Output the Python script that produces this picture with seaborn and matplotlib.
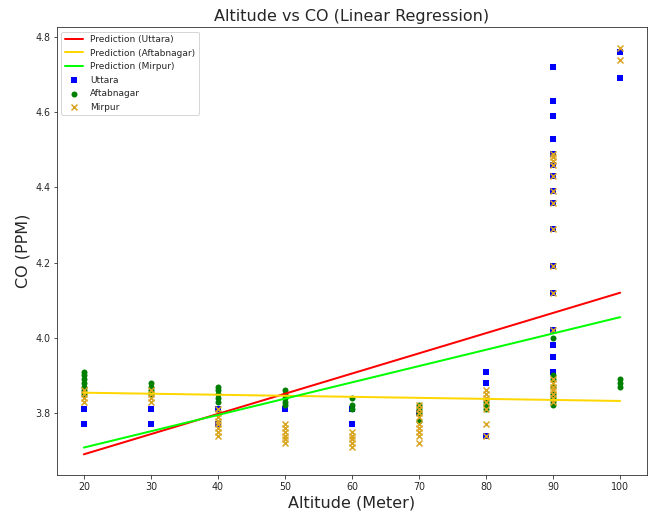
import numpy as np
import pandas as pd
import matplotlib
matplotlib.use("Agg")
import matplotlib.pyplot as plt
import seaborn as sns

# ---- data ----
uttara_alt = [20, 20, 30, 30, 40, 40, 50, 60, 60, 70, 80, 80, 80,
              90, 90, 90, 90, 90, 90, 90, 90, 90, 90, 90, 90, 90, 90, 90, 90,
              100, 100]
uttara_co = [3.81, 3.77, 3.81, 3.77, 3.81, 3.77, 3.81, 3.81, 3.77, 3.80, 3.91, 3.88, 3.74,
             4.72, 4.63, 4.59, 4.53, 4.49, 4.46, 4.43, 4.39, 4.36, 4.29, 4.19, 4.12, 4.02, 3.98, 3.95, 3.91,
             4.76, 4.69]

aftab_alt = [20, 20, 20, 20, 20, 20, 20,
             30, 30, 30, 30,
             40, 40, 40, 40, 40,
             50, 50, 50, 50, 50,
             60, 60, 60,
             70, 70, 70, 70,
             80, 80, 80,
             90, 90, 90, 90, 90, 90, 90, 90,
             100, 100, 100]
aftab_co = [3.91, 3.90, 3.89, 3.88, 3.87, 3.86, 3.85,
            3.88, 3.87, 3.86, 3.85,
            3.87, 3.86, 3.85, 3.84, 3.83,
            3.86, 3.85, 3.84, 3.83, 3.82,
            3.84, 3.82, 3.81,
            3.82, 3.81, 3.80, 3.78,
            3.83, 3.82, 3.81,
            4.00, 3.90, 3.89, 3.87, 3.85, 3.84, 3.83, 3.82,
            3.89, 3.88, 3.87]

mirpur_alt = [20, 20, 20, 20,
              30, 30, 30, 30,
              40, 40, 40, 40, 40, 40, 40, 40,
              50, 50, 50, 50, 50, 50,
              60, 60, 60, 60, 60,
              70, 70, 70, 70, 70, 70, 70, 70, 70,
              80, 80, 80, 80, 80, 80, 80,
              90, 90, 90, 90, 90, 90, 90, 90, 90, 90, 90, 90, 90, 90, 90, 90, 90, 90,
              100, 100]
mirpur_co = [3.86, 3.85, 3.84, 3.83,
             3.86, 3.85, 3.84, 3.83,
             3.81, 3.80, 3.79, 3.78, 3.77, 3.76, 3.75, 3.74,
             3.77, 3.76, 3.75, 3.74, 3.73, 3.72,
             3.75, 3.74, 3.73, 3.72, 3.71,
             3.82, 3.81, 3.80, 3.79, 3.77, 3.76, 3.75, 3.74, 3.72,
             3.86, 3.85, 3.84, 3.83, 3.81, 3.77, 3.74,
             4.49, 4.48, 4.47, 4.46, 4.43, 4.39, 4.36, 4.29, 4.19, 4.12, 4.02,
             3.89, 3.88, 3.87, 3.86, 3.85, 3.84, 3.83,
             4.77, 4.74]

# regression predictions at the ends of the altitude range
pred_alt = [20, 100]
pred_uttara = [3.690, 4.120]
pred_aftab = [3.854, 3.832]
pred_mirpur = [3.708, 4.055]

x_ticks = [20, 30, 40, 50, 60, 70, 80, 90, 100]
y_ticks = [3.8, 4.0, 4.2, 4.4, 4.6, 4.8]

# ---- plot ----
sns.set_style("ticks")
plt.rcParams['font.family'] = ['DejaVu Sans']

fig = plt.figure(figsize=(652 / 72, 514 / 72), dpi=72)
ax = fig.add_axes([57 / 652, 1 - 475 / 514, (647 - 57) / 652, (475 - 27) / 514])

sns.lineplot(x=pred_alt, y=pred_uttara, color="red", lw=2, label="Prediction (Uttara)", ax=ax)
sns.lineplot(x=pred_alt, y=pred_aftab, color="gold", lw=2, label="Prediction (Aftabnagar)", ax=ax)
sns.lineplot(x=pred_alt, y=pred_mirpur, color="lime", lw=2, label="Prediction (Mirpur)", ax=ax)

sns.scatterplot(x=uttara_alt, y=uttara_co, marker="s", color="blue", s=36,
                linewidth=0, label="Uttara", ax=ax)
sns.scatterplot(x=aftab_alt, y=aftab_co, marker="o", color="green", s=36,
                linewidth=0, label="Aftabnagar", ax=ax)
sns.scatterplot(x=mirpur_alt, y=mirpur_co, marker="x", color="goldenrod", s=36,
                linewidth=1.5, label="Mirpur", ax=ax)

ax.set_xlim(16, 104)
ax.set_ylim(3.635, 4.827)
ax.set_xticks(x_ticks)
ax.set_yticks(y_ticks)
ax.set_yticklabels([f"{v:.1f}" for v in y_ticks])
ax.tick_params(labelsize=9.5)

ax.set_title("Altitude vs CO (Linear Regression)", fontsize=16)
ax.set_xlabel("Altitude (Meter)", fontsize=16)
ax.set_ylabel("CO (PPM)", fontsize=16)
ax.legend(loc="upper left", fontsize=9)

fig.savefig("out.png", dpi=72)
